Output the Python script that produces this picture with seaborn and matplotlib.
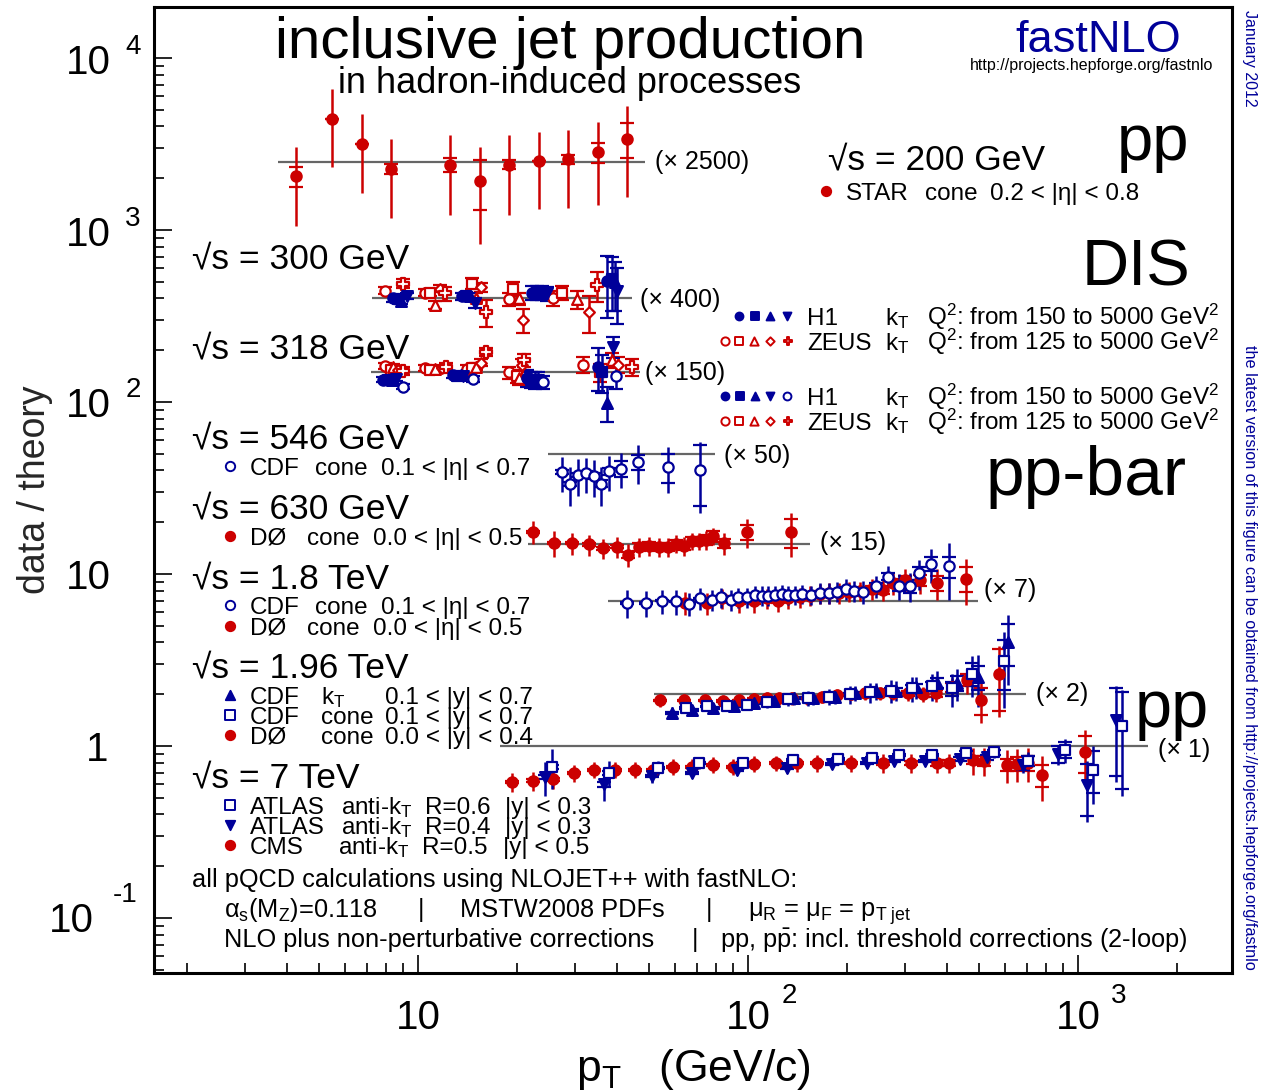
import numpy as np
import pandas as pd
import matplotlib
matplotlib.use("Agg")
import matplotlib.pyplot as plt
from matplotlib.ticker import LogLocator, NullFormatter
import seaborn as sns

# ---------------- data (ratio data/theory, before the scale factor) ----------------
# STAR, sqrt(s)=200 GeV
star_pt = [4.27, 5.48, 6.76, 8.28, 12.5, 15.4, 18.9, 23.3, 28.5, 35.1, 43.0]
star_ratio = [0.82, 1.78, 1.27, 0.91, 0.96, 0.77, 0.96, 1.01, 1.03, 1.13, 1.36]
star_tot = [0.40, 0.85, 0.61, 0.44, 0.47, 0.44, 0.47, 0.48, 0.49, 0.57, 0.74]
star_stat = [0.11, 0.0, 0.0, 0.06, 0.09, 0.25, 0.06, 0.0, 0.06, 0.15, 0.31]

# DIS 300 GeV: marker -> (pt, ratio, err)
h1_300 = {
    "circle": ([8.40, 13.6, 22.1, 37.4], [1.00, 1.03, 1.08, 1.27], [0.04, 0.05, 0.10, 0.50]),
    "square": ([8.69, 14.0, 22.9, 38.7], [0.99, 1.04, 1.08, 1.29], [0.04, 0.05, 0.10, 0.45]),
    "triangle_up": ([8.88, 14.4, 23.8, 39.5], [0.97, 1.03, 1.08, 1.24], [0.04, 0.05, 0.10, 0.40]),
    "triangle_down": ([9.26, 14.9, 24.6, 40.1], [1.03, 0.94, 1.07, 1.11], [0.04, 0.06, 0.10, 0.40]),
}
zeus_300 = {
    "open_circle": ([7.94, 10.5, 18.9, 25.6], [1.11, 1.08, 0.99, 1.00], [0.05, 0.05, 0.08, 0.10]),
    "open_square": ([10.9, 14.6, 19.4, 27.3], [1.08, 1.22, 1.14, 1.08], [0.05, 0.09, 0.10, 0.10]),
    "open_triangle": ([11.3, 15.0, 20.2, 30.3], [0.92, 1.01, 1.00, 0.99], [0.05, 0.06, 0.08, 0.12]),
    "open_diamond": ([11.7, 15.5, 20.8, 33.0], [1.14, 1.16, 0.75, 0.83], [0.05, 0.07, 0.12, 0.20]),
    "open_cross": ([9.01, 12.1, 16.1, 34.8], [1.22, 1.07, 0.83, 1.19], [0.07, 0.10, 0.15, 0.24]),
}
# DIS 318 GeV
h1_318 = {
    "circle": ([7.84, 12.8, 21.4, 35.1], [0.90, 0.96, 0.92, 1.07], [0.03, 0.04, 0.10, 0.30]),
    "square": ([8.11, 13.1, 22.0, 36.1], [0.89, 0.95, 0.90, 1.00], [0.03, 0.04, 0.10, 0.25]),
    "triangle_up": ([8.34, 13.5, 22.6, 37.4], [0.90, 0.96, 0.89, 0.66], [0.03, 0.04, 0.10, 0.15]),
    "triangle_down": ([8.57, 13.7, 23.1, 39.0], [0.91, 0.95, 0.90, 1.40], [0.03, 0.04, 0.10, 0.20]),
    "open_circle": ([9.01, 14.7, 23.9, 39.8], [0.82, 0.91, 0.87, 0.94], [0.03, 0.04, 0.08, 0.15]),
}
zeus_318 = {
    "open_circle": ([7.94, 10.5, 14.1, 18.9, 31.6], [1.08, 1.05, 1.04, 0.99, 1.10], [0.04, 0.04, 0.05, 0.08, 0.12]),
    "open_square": ([8.28, 10.9, 14.6, 20.0, 35.6], [1.03, 1.03, 1.05, 0.94, 0.99], [0.04, 0.04, 0.05, 0.08, 0.12]),
    "open_triangle": ([8.40, 11.3, 15.0, 20.2, 38.7], [1.07, 1.04, 1.07, 0.92, 1.17], [0.04, 0.04, 0.05, 0.08, 0.12]),
    "open_diamond": ([8.69, 11.8, 15.5, 20.7, 40.4], [1.03, 1.05, 1.13, 1.10, 1.10], [0.04, 0.04, 0.05, 0.08, 0.12]),
    "open_cross": ([9.01, 12.2, 16.1, 20.9, 44.5], [1.01, 1.07, 1.31, 1.17, 1.07], [0.05, 0.05, 0.07, 0.10, 0.12]),
}

# CDF 546 GeV
cdf546_pt = [27.3, 28.9, 30.5, 32.3, 34.1, 35.9, 37.9, 41.2, 46.4, 57.2, 71.6]
cdf546_ratio = [0.78, 0.67, 0.75, 0.77, 0.74, 0.67, 0.79, 0.82, 0.90, 0.84, 0.81]
cdf546_tot = [0.18, 0.17, 0.18, 0.18, 0.18, 0.17, 0.18, 0.19, 0.23, 0.25, 0.36]
cdf546_stat = [0.02, 0.02, 0.02, 0.02, 0.03, 0.03, 0.04, 0.09, 0.09, 0.16, 0.31]

# D0 630 GeV
d0630_pt = [22.3, 25.8, 29.3, 33.0, 36.4, 40.1, 43.3, 46.7, 50.1, 53.7, 57.2, 60.5, 64.0, 67.6,
            71.1, 74.6, 78.3, 84.6, 99.3, 135]
d0630_ratio = [1.17, 1.01, 1.01, 0.99, 0.94, 0.96, 0.86, 0.96, 0.97, 0.96, 0.96, 1.00, 0.97, 1.04,
               1.04, 1.05, 1.11, 1.01, 1.17, 1.17]
d0630_tot = [0.18, 0.17, 0.15, 0.14, 0.13, 0.13, 0.13, 0.12, 0.12, 0.12, 0.12, 0.12, 0.12, 0.12,
             0.12, 0.13, 0.13, 0.15, 0.22, 0.33]
d0630_stat = [0.02, 0.02, 0.02, 0.02, 0.02, 0.02, 0.03, 0.05, 0.05, 0.05, 0.05, 0.05, 0.05, 0.06,
              0.06, 0.07, 0.08, 0.06, 0.12, 0.23]

# 1.8 TeV
cdf18_pt = [43.0, 49.1, 54.8, 60.5, 66.2, 71.6, 77.8, 82.8, 88.7, 93.3, 99.3, 105, 110, 115, 121,
            127, 132, 139, 146, 155, 165, 176, 186, 198, 210, 223, 244, 266, 287, 310, 330, 359, 407]
cdf18_ratio = [0.97, 0.97, 1.00, 0.99, 0.96, 1.03, 1.01, 1.05, 1.01, 1.05, 1.05, 1.08, 1.07, 1.07,
               1.08, 1.10, 1.08, 1.08, 1.10, 1.08, 1.11, 1.11, 1.13, 1.17, 1.14, 1.13, 1.21, 1.38,
               1.22, 1.21, 1.44, 1.64, 1.58]
cdf18_tot = [0.18, 0.17, 0.16, 0.16, 0.15, 0.15, 0.14, 0.14, 0.14, 0.14, 0.14, 0.14, 0.14, 0.14,
             0.14, 0.14, 0.14, 0.14, 0.14, 0.14, 0.15, 0.15, 0.15, 0.16, 0.16, 0.17, 0.18, 0.20,
             0.21, 0.23, 0.28, 0.37, 0.57]
cdf18_stat = [0.01, 0.01, 0.01, 0.01, 0.01, 0.01, 0.01, 0.01, 0.01, 0.01, 0.01, 0.01, 0.01, 0.01,
              0.01, 0.01, 0.02, 0.02, 0.02, 0.02, 0.02, 0.02, 0.03, 0.03, 0.04, 0.04, 0.05, 0.06,
              0.08, 0.10, 0.13, 0.16, 0.22]
d018_pt = [64.4, 75.2, 83.4, 93.9, 104, 114, 123, 132, 144, 154, 165, 176, 189, 202, 218, 238,
           257, 275, 299, 332, 374, 458]
d018_ratio = [0.97, 0.97, 1.03, 0.99, 0.99, 1.03, 1.00, 1.03, 1.05, 1.07, 1.10, 1.11, 1.11, 1.13,
              1.14, 1.17, 1.16, 1.27, 1.32, 1.31, 1.27, 1.34]
d018_tot = [0.15, 0.14, 0.14, 0.14, 0.14, 0.14, 0.14, 0.14, 0.14, 0.14, 0.15, 0.15, 0.15, 0.15,
            0.15, 0.16, 0.17, 0.19, 0.20, 0.22, 0.26, 0.40]
d018_stat = [0.03, 0.03, 0.03, 0.03, 0.03, 0.03, 0.03, 0.03, 0.03, 0.04, 0.04, 0.04, 0.04, 0.04,
             0.05, 0.05, 0.06, 0.07, 0.08, 0.10, 0.13, 0.22]

# 1.96 TeV
d0196_pt = [54.1, 64.0, 74.1, 84.0, 93.9, 104, 114, 124, 136, 151, 168, 186, 205, 226, 251, 275,
            305, 339, 371, 415, 461, 508, 577]
d0196_ratio = [0.92, 0.92, 0.92, 0.91, 0.92, 0.94, 0.95, 0.95, 0.95, 0.95, 0.97, 0.99, 1.00, 1.01,
               1.01, 1.01, 1.01, 1.00, 1.01, 1.10, 1.21, 0.92, 1.32]
d0196_tot = [0.08, 0.08, 0.08, 0.08, 0.08, 0.08, 0.08, 0.08, 0.08, 0.08, 0.08, 0.08, 0.08, 0.09,
             0.09, 0.09, 0.10, 0.10, 0.11, 0.14, 0.21, 0.24, 0.58]
d0196_stat = [0.01, 0.01, 0.01, 0.01, 0.01, 0.01, 0.01, 0.01, 0.01, 0.01, 0.01, 0.01, 0.02, 0.02,
              0.02, 0.02, 0.03, 0.04, 0.05, 0.07, 0.10, 0.16, 0.52]
cdfkt_pt = [58.9, 67.6, 78.3, 90.8, 104, 120, 138, 158, 183, 211, 244, 281, 323, 374, 430, 498, 614]
cdfkt_ratio = [0.78, 0.81, 0.83, 0.85, 0.89, 0.91, 0.95, 0.95, 0.97, 1.01, 1.04, 1.05, 1.10, 1.17,
               1.16, 1.26, 2.01]
cdfkt_tot = [0.06, 0.06, 0.06, 0.06, 0.07, 0.07, 0.08, 0.08, 0.09, 0.10, 0.12, 0.14, 0.16, 0.20,
             0.25, 0.42, 0.88]
cdfkt_stat = [0.01, 0.01, 0.01, 0.01, 0.01, 0.01, 0.01, 0.02, 0.02, 0.02, 0.03, 0.04, 0.05, 0.08,
              0.12, 0.20, 0.55]
cdfcone_pt = [64.9, 75.2, 86.3, 99.3, 114, 132, 152, 176, 204, 234, 271, 314, 361, 415, 477, 597]
cdfcone_ratio = [0.83, 0.85, 0.86, 0.87, 0.90, 0.94, 0.95, 0.97, 1.00, 1.03, 1.05, 1.08, 1.11, 1.08,
                 1.31, 1.56]
cdfcone_tot = [0.05, 0.05, 0.06, 0.06, 0.07, 0.08, 0.09, 0.10, 0.12, 0.14, 0.16, 0.18, 0.20, 0.24,
               0.35, 0.73]
cdfcone_stat = [0.01, 0.01, 0.01, 0.01, 0.01, 0.01, 0.01, 0.02, 0.02, 0.03, 0.04, 0.05, 0.07, 0.10,
                0.20, 0.50]

# 7 TeV
cms_pt = [19.3, 22.3, 25.6, 29.7, 34.1, 39.5, 45.5, 51.5, 59.3, 67.6, 78.3, 90.1, 104, 122, 141,
          162, 206, 257, 312, 374, 407, 481, 519, 609, 653, 705, 778, 1049]
cms_ratio = [0.62, 0.63, 0.64, 0.70, 0.73, 0.73, 0.73, 0.73, 0.76, 0.76, 0.78, 0.76, 0.79, 0.80,
             0.80, 0.80, 0.80, 0.80, 0.80, 0.80, 0.80, 0.83, 0.82, 0.78, 0.79, 0.80, 0.68, 0.92]
cms_tot = [0.08, 0.08, 0.08, 0.08, 0.08, 0.08, 0.08, 0.08, 0.08, 0.08, 0.08, 0.08, 0.08, 0.08,
           0.09, 0.09, 0.09, 0.10, 0.10, 0.10, 0.10, 0.15, 0.15, 0.17, 0.17, 0.18, 0.20, 0.32]
cms_stat = [0.01, 0.01, 0.01, 0.01, 0.01, 0.01, 0.01, 0.01, 0.01, 0.01, 0.01, 0.01, 0.01, 0.01,
            0.01, 0.01, 0.01, 0.02, 0.02, 0.03, 0.03, 0.04, 0.05, 0.06, 0.07, 0.08, 0.10, 0.22]
atlas06_pt = [25.5, 37.9, 53.3, 71.1, 96.6, 137, 187, 238, 287, 361, 458, 556, 705, 914, 1109, 1358]
atlas06_ratio = [0.76, 0.70, 0.75, 0.80, 0.80, 0.83, 0.84, 0.85, 0.89, 0.89, 0.91, 0.92, 0.82,
                 0.95, 0.73, 1.31]
atlas06_tot = [0.20, 0.12, 0.07, 0.06, 0.06, 0.06, 0.06, 0.06, 0.06, 0.06, 0.06, 0.07, 0.10, 0.15,
               0.27, 0.80]
atlas06_stat = [0.02, 0.02, 0.01, 0.01, 0.01, 0.01, 0.01, 0.01, 0.01, 0.01, 0.02, 0.03, 0.05,
                0.10, 0.20, 0.75]
atlas04_pt = [24.3, 36.6, 51.2, 67.6, 92.7, 131, 180, 229, 277, 344, 439, 530, 681, 869, 1064, 1303]
atlas04_ratio = [0.66, 0.60, 0.67, 0.70, 0.73, 0.75, 0.79, 0.80, 0.82, 0.82, 0.84, 0.86, 0.78,
                 0.90, 0.59, 1.42]
atlas04_tot = [0.15, 0.12, 0.06, 0.05, 0.05, 0.05, 0.05, 0.05, 0.05, 0.05, 0.05, 0.06, 0.08, 0.12,
               0.23, 0.80]
atlas04_stat = [0.02, 0.02, 0.01, 0.01, 0.01, 0.01, 0.01, 0.01, 0.01, 0.01, 0.02, 0.03, 0.05,
                0.10, 0.20, 0.75]

# scale factors and pT range of the reference lines
ref_scale = [2500, 400, 150, 50, 15, 7, 2, 1]
ref_lo = [3.77, 7.26, 7.2, 24.8, 21.5, 37.7, 51.9, 17.7]
ref_hi = [48.7, 44.5, 47.0, 79.4, 154, 498, 695, 1630]
ref_label = ["(× 2500)", "(× 400)", "(× 150)", "(× 50)", "(× 15)", "(× 7)", "(× 2)", "(× 1)"]

# ---------------- style ----------------
sns.set_theme(style="white")
plt.rcParams["font.family"] = ["Liberation Sans", "DejaVu Sans"]
plt.rcParams["mathtext.fontset"] = "custom"
plt.rcParams["mathtext.rm"] = "Liberation Sans"
plt.rcParams["mathtext.it"] = "Liberation Sans:italic"
plt.rcParams["mathtext.sf"] = "Liberation Sans"

RED = "#cc0000"
BLUE = "#000099"
W, H = 1261, 1090

fig = plt.figure(figsize=(W / 100, H / 100), dpi=100)
ax = fig.add_axes([154 / W, 1 - 973 / H, (1232 - 154) / W, (973 - 7) / H])
ax.set_xscale("log")
ax.set_yscale("log")

MARKERS = {
    "circle": ("o", True), "square": ("s", True), "triangle_up": ("^", True),
    "triangle_down": ("v", True), "open_circle": ("o", False), "open_square": ("s", False),
    "open_triangle": ("^", False), "open_diamond": ("D", False), "open_cross": ("P", False),
}
SIZES = {"o": 55, "s": 60, "^": 60, "v": 60, "D": 30, "P": 70}


def draw(pt, ratio, tot, stat, scale, color, kind, caps_at_total=False):
    marker, filled = MARKERS[kind]
    y = np.array(ratio) * scale
    ax.errorbar(pt, y, yerr=np.array(tot) * scale, fmt="none", ecolor=color,
                elinewidth=1.8, capsize=5 if caps_at_total else 0, capthick=1.6, zorder=2)
    if stat is not None:
        ax.errorbar(pt, y, yerr=np.array(stat) * scale, fmt="none", ecolor=color,
                    elinewidth=0, capsize=5, capthick=1.6, zorder=2)
    df = pd.DataFrame({"pt": pt, "y": y})
    sns.scatterplot(data=df, x="pt", y="y", marker=marker, s=SIZES[marker],
                    color=color, edgecolor=color, facecolor=color if filled else "white",
                    linewidth=1.6, zorder=3, ax=ax, legend=False)


# reference lines
ax.hlines(ref_scale, ref_lo, ref_hi, colors="#666666", linewidth=1.6, zorder=1)

draw(star_pt, star_ratio, star_tot, star_stat, 2500, RED, "circle")
for kind, (p, r, e) in zeus_300.items():
    draw(p, r, e, None, 400, RED, kind, caps_at_total=True)
for kind, (p, r, e) in h1_300.items():
    draw(p, r, e, None, 400, BLUE, kind, caps_at_total=True)
for kind, (p, r, e) in zeus_318.items():
    draw(p, r, e, None, 150, RED, kind, caps_at_total=True)
for kind, (p, r, e) in h1_318.items():
    draw(p, r, e, None, 150, BLUE, kind, caps_at_total=True)
draw(cdf546_pt, cdf546_ratio, cdf546_tot, cdf546_stat, 50, BLUE, "open_circle")
draw(d0630_pt, d0630_ratio, d0630_tot, d0630_stat, 15, RED, "circle")
draw(d018_pt, d018_ratio, d018_tot, d018_stat, 7, RED, "circle")
draw(cdf18_pt, cdf18_ratio, cdf18_tot, cdf18_stat, 7, BLUE, "open_circle")
draw(d0196_pt, d0196_ratio, d0196_tot, d0196_stat, 2, RED, "circle")
draw(cdfkt_pt, cdfkt_ratio, cdfkt_tot, cdfkt_stat, 2, BLUE, "triangle_up")
draw(cdfcone_pt, cdfcone_ratio, cdfcone_tot, cdfcone_stat, 2, BLUE, "open_square")
draw(cms_pt, cms_ratio, cms_tot, cms_stat, 1, RED, "circle")
draw(atlas04_pt, atlas04_ratio, atlas04_tot, atlas04_stat, 1, BLUE, "triangle_down")
draw(atlas06_pt, atlas06_ratio, atlas06_tot, atlas06_stat, 1, BLUE, "open_square")

# axes
ax.set_xlim(1.585, 2931)
ax.set_ylim(0.0479, 19800)
ax.xaxis.set_major_locator(LogLocator(base=10, numticks=20))
ax.yaxis.set_major_locator(LogLocator(base=10, numticks=20))
ax.xaxis.set_minor_locator(LogLocator(base=10, subs=np.arange(2, 10), numticks=100))
ax.yaxis.set_minor_locator(LogLocator(base=10, subs=np.arange(2, 10), numticks=100))
ax.xaxis.set_minor_formatter(NullFormatter())
ax.yaxis.set_minor_formatter(NullFormatter())
ax.tick_params(which="both", direction="in", left=True, bottom=True, top=False, right=False,
               labelleft=False, labelbottom=False, color="black")
ax.tick_params(which="major", length=13, width=1.2)
ax.tick_params(which="minor", length=7, width=1.2)
ax.set_xlabel("")
ax.set_ylabel("")
for sp in ax.spines.values():
    sp.set_color("black")
    sp.set_linewidth(2.2)


def put(px, py, s, size, ha="left", color="black", **kw):
    # py is the vertical centre of capital letters
    base = py + 0.358 * size * 100 / 72
    fig.text(px / W, 1 - base / H, s, fontsize=size, ha=ha, va="baseline", color=color, **kw)


def sym(px, py, kind, color, s=45):
    marker, filled = MARKERS[kind]
    ax.scatter([px / W], [1 - py / H], transform=fig.transFigure, marker=marker, s=s,
               facecolor=color if filled else "white", edgecolor=color, linewidth=1.4,
               clip_on=False, zorder=6)


# tick labels
for y, sup in [(60, "4"), (232, "3"), (403, "2")]:
    put(88, y, "10", 29, ha="center")
    put(133, y - 16, sup, 20, ha="center")
put(88, 575, "10", 29, ha="center")
put(97, 747, "1", 29, ha="center")
put(71, 918, "10", 29, ha="center")
put(125, 892, "-1", 20, ha="center")
put(418, 1015, "10", 29, ha="center")
put(748, 1015, "10", 29, ha="center")
put(789, 993, "2", 20, ha="center")
put(1078, 1015, "10", 29, ha="center")
put(1119, 993, "3", 20, ha="center")

# axis titles
fig.text(35 / W, 1 - 490 / H, "data / theory", rotation=90, fontsize=27, ha="center", va="center")
put(693, 1065, r"p$_\mathrm{T}$   (GeV/c)", 32, ha="center")

# titles
put(570, 37, "inclusive jet production", 42, ha="center")
put(570, 80, "in hadron-induced processes", 26, ha="center")
put(1098, 36, "fastNLO", 32.5, ha="center", color=BLUE)
put(970, 64, "http://projects.hepforge.org/fastnlo", 11.5)
fig.text(1250 / W, 1 - 10 / H, "January 2012", rotation=-90, fontsize=11.5, color=BLUE,
         ha="center", va="top")
fig.text(1250 / W, 1 - 970 / H,
         "the latest version of this figure can be obtained from http://projects.hepforge.org/fastnlo",
         rotation=-90, fontsize=11.7, color=BLUE, ha="center", va="bottom")

# process labels
put(1153, 137, "pp", 47, ha="center")
put(1136, 262, "DIS", 47, ha="center")
put(1086, 470, "pp-bar", 50, ha="center")
put(1172, 703, "pp", 48, ha="center")

# scale labels
for lab, (lx, ly) in zip(ref_label, [(655, 160), (640, 298), (645, 371), (724, 454),
                                     (820, 541), (984, 588), (1036, 692), (1158, 748)]):
    put(lx, ly, lab, 18)

# sqrt(s) headers
LS = 17.5
SH = 25.5
put(828, 157, "√s = 200 GeV", SH)
sym(826, 191, "circle", RED)
put(846, 191, "STAR", LS); put(925, 191, "cone", LS); put(990, 191, "0.2 < |η| < 0.8", LS)

put(192, 256, "√s = 300 GeV", SH)
put(192, 346, "√s = 318 GeV", SH)
for row, ylab in [(0, 316), (1, 396)]:
    kinds = ["circle", "square", "triangle_up", "triangle_down"] + (["open_circle"] if row else [])
    xs = [739, 755, 770, 787] if row == 0 else [725, 740, 755, 770, 787]
    for k, x in zip(kinds, xs):
        sym(x, ylab, k, BLUE, s=32)
    put(807, ylab, "H1", LS)
    put(885, ylab, r"k$_\mathrm{T}$", LS)
    put(927, ylab, r"Q$^\mathrm{2}$: from 150 to 5000 GeV$^\mathrm{2}$", LS)
for yz in [341, 421]:
    for k, x in zip(["open_circle", "open_square", "open_triangle", "open_diamond", "open_cross"],
                    [725, 739, 754, 770, 788]):
        sym(x, yz, k, RED, s=35 if k != "open_diamond" else 18)
    put(807, yz, "ZEUS", LS)
    put(885, yz, r"k$_\mathrm{T}$", LS)
    put(927, yz, r"Q$^\mathrm{2}$: from 125 to 5000 GeV$^\mathrm{2}$", LS)

put(192, 436, "√s = 546 GeV", SH)
sym(230, 466, "open_circle", BLUE)
put(250, 466, "CDF", LS); put(315, 466, "cone", LS); put(381, 466, "0.1 < |η| < 0.7", LS)

put(192, 506, "√s = 630 GeV", SH)
sym(230, 536, "circle", RED)
put(250, 536, "DØ", LS); put(307, 536, "cone", LS); put(373, 536, "0.0 < |η| < 0.5", LS)

put(192, 576, "√s = 1.8 TeV", SH)
sym(230, 605, "open_circle", BLUE)
put(250, 605, "CDF", LS); put(315, 605, "cone", LS); put(381, 605, "0.1 < |η| < 0.7", LS)
sym(230, 626, "circle", RED)
put(250, 626, "DØ", LS); put(307, 626, "cone", LS); put(373, 626, "0.0 < |η| < 0.5", LS)

put(192, 665, "√s = 1.96 TeV", SH)
sym(230, 695, "triangle_up", BLUE)
put(250, 695, "CDF", LS); put(321, 695, r"k$_\mathrm{T}$", LS); put(385, 695, "0.1 < |y| < 0.7", LS)
sym(230, 715, "open_square", BLUE)
put(250, 715, "CDF", LS); put(321, 715, "cone", LS); put(385, 715, "0.1 < |y| < 0.7", LS)
sym(230, 735, "circle", RED)
put(250, 735, "DØ", LS); put(321, 735, "cone", LS); put(385, 735, "0.0 < |y| < 0.4", LS)

put(192, 775, "√s = 7 TeV", SH)
sym(230, 805, "open_square", BLUE)
put(250, 805, "ATLAS", LS); put(341, 805, r"anti-k$_\mathrm{T}$", LS)
put(425, 805, "R=0.6", LS); put(505, 805, "|y| < 0.3", LS)
sym(230, 825, "triangle_down", BLUE)
put(250, 825, "ATLAS", LS); put(341, 825, r"anti-k$_\mathrm{T}$", LS)
put(425, 825, "R=0.4", LS); put(505, 825, "|y| < 0.3", LS)
sym(230, 845, "circle", RED)
put(250, 845, "CMS", LS); put(338, 845, r"anti-k$_\mathrm{T}$", LS)
put(422, 845, "R=0.5", LS); put(503, 845, "|y| < 0.5", LS)

# notes
NS = 18.3
put(192, 878, "all pQCD calculations using NLOJET++ with fastNLO:", NS)
put(224, 908, r"α$_\mathrm{s}$(M$_\mathrm{Z}$)=0.118", NS)
put(418, 908, "|", NS)
put(460, 908, "MSTW2008 PDFs", NS)
put(706, 908, "|", NS)
put(748, 908, r"μ$_\mathrm{R}$ = μ$_\mathrm{F}$ = p$_\mathrm{T\ jet}$", NS)
put(224, 938, "NLO plus non-perturbative corrections", NS)
put(692, 938, "|", NS)
put(720, 938, r"pp, p$\bar{\mathrm{p}}$: incl. threshold corrections (2-loop)", NS)

fig.savefig("out.png", dpi=100)
